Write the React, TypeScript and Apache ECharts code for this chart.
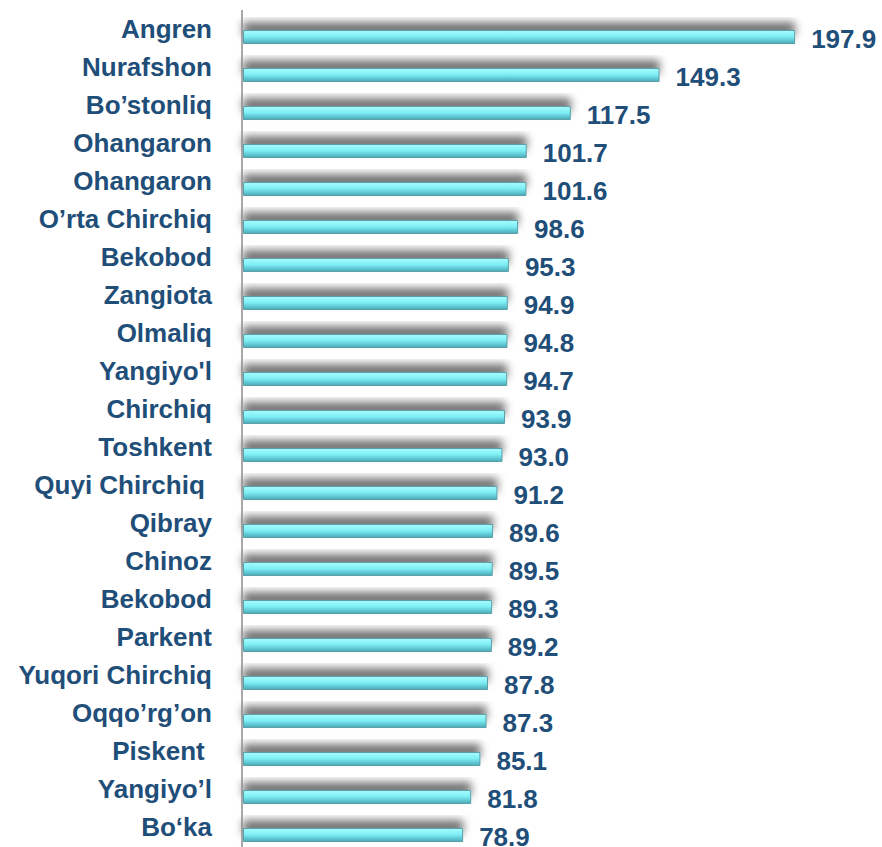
import React, { useEffect, useRef } from "react";
import * as echarts from "echarts";

const categories = [
  "Angren",
  "Nurafshon",
  "Bo’stonliq",
  "Ohangaron",
  "Ohangaron",
  "O’rta Chirchiq",
  "Bekobod",
  "Zangiota",
  "Olmaliq",
  "Yangiyo'l",
  "Chirchiq",
  "Toshkent",
  "Quyi Chirchiq ",
  "Qibray",
  "Chinoz",
  "Bekobod",
  "Parkent",
  "Yuqori Chirchiq",
  "Oqqo’rg’on",
  "Piskent ",
  "Yangiyo’l",
  "Bo‘ka",
];

const values = [
  197.9, 149.3, 117.5, 101.7, 101.6, 98.6, 95.3, 94.9, 94.8, 94.7, 93.9, 93.0,
  91.2, 89.6, 89.5, 89.3, 89.2, 87.8, 87.3, 85.1, 81.8, 78.9,
];

const TEXT = "#1F4E79";

export default function App() {
  const ref = useRef<HTMLDivElement>(null);
  useEffect(() => {
    if (!ref.current) return;
    const chart = echarts.init(ref.current, undefined, { renderer: "svg" });
    chart.setOption({
      animation: false,
      backgroundColor: "#ffffff",
      grid: {
        left: 243,
        right: 81,
        top: 18,
        height: 836,
        outerBoundsMode: "none",
        containLabel: false,
      },
      xAxis: {
        type: "value",
        min: 0,
        max: 200,
        show: false,
      },
      yAxis: {
        type: "category",
        data: categories,
        inverse: true,
        axisLine: { show: false },
        axisTick: { show: false },
        splitLine: { show: false },
        axisLabel: {
          interval: 0,
          margin: 31,
          color: TEXT,
          fontFamily: "Liberation Sans, Arial, sans-serif",
          fontWeight: "bold",
          fontSize: 26,
          verticalAlign: "bottom",
          lineHeight: 17,
        },
      },
      series: [
        {
          type: "bar",
          data: values,
          barWidth: 14,
          itemStyle: {
            color: new echarts.graphic.LinearGradient(0, 0, 0, 1, [
              { offset: 0, color: "#a8fbfd" },
              { offset: 0.45, color: "#7ff0f6" },
              { offset: 1, color: "#4aaab8" },
            ]),
            borderColor: "#5b9fa8",
            borderWidth: 1,
            shadowColor: "rgba(0,0,0,0.55)",
            shadowBlur: 8,
            shadowOffsetY: -8,
            shadowOffsetX: 0,
          },
          label: {
            show: true,
            position: "right",
            distance: 16,
            offset: [0, 2],
            color: TEXT,
            fontFamily: "Liberation Sans, Arial, sans-serif",
            fontWeight: "bold",
            fontSize: 26,
            formatter: (p: any) => Number(p.value).toFixed(1),
          },
        },
      ],
      graphic: [
        {
          type: "line",
          shape: { x1: 242, y1: 10, x2: 242, y2: 847 },
          style: { stroke: "#8c8c8c", lineWidth: 1.5 },
          z: 10,
        },
      ],
    });
    return () => chart.dispose();
  }, []);
  return (
    <div
      ref={ref}
      style={{ position: "absolute", left: 0, top: 0, width: 882, height: 847 }}
    />
  );
}
